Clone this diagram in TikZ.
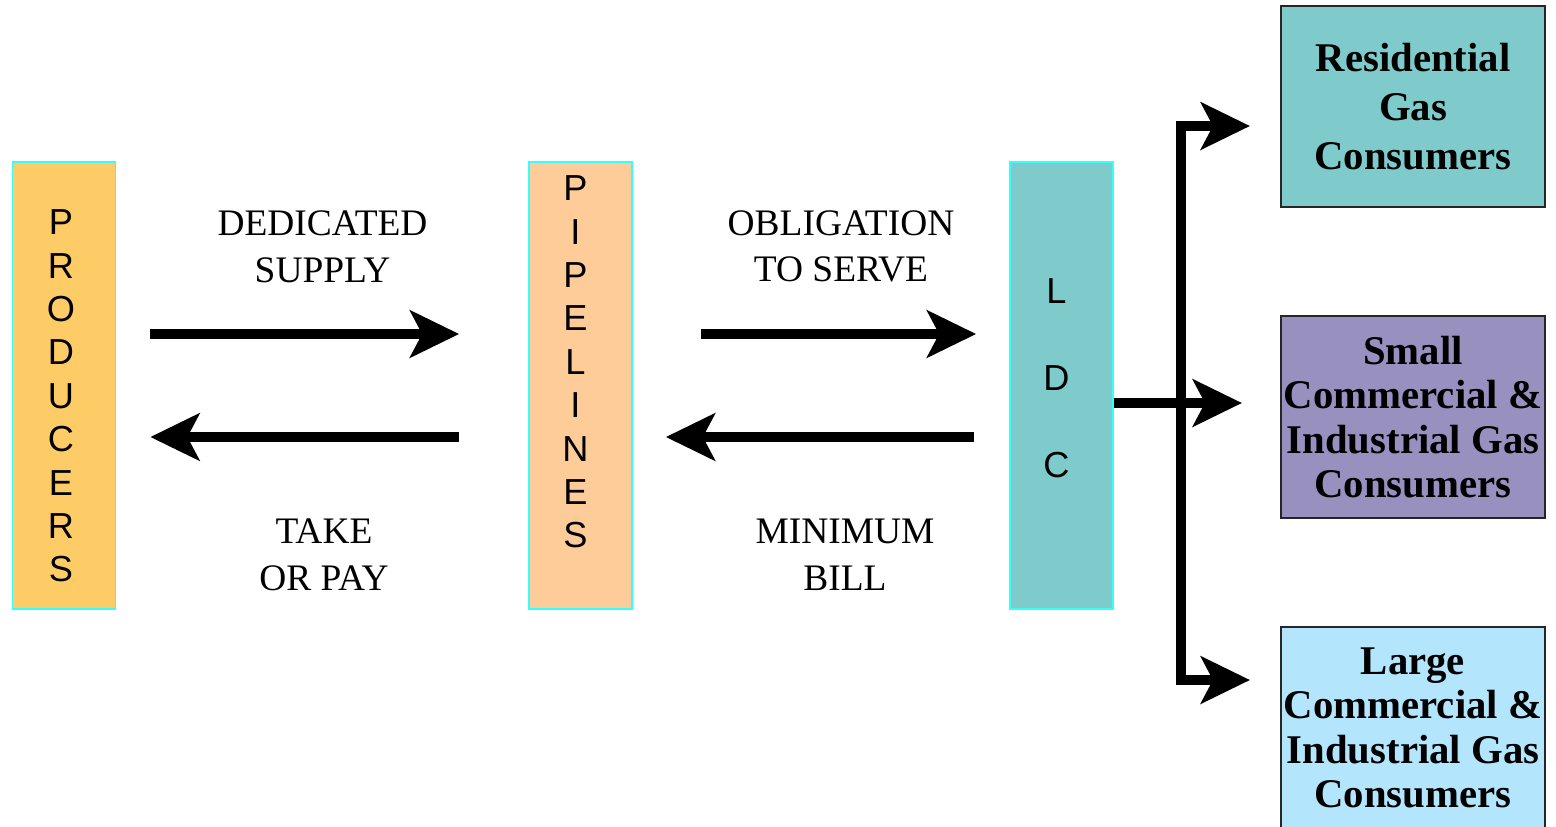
\documentclass[tikz,border=0pt]{standalone}
\usepackage{fontspec}
\setmainfont{Liberation Serif}
\newfontfamily\arialfont{Liberation Sans}
\usetikzlibrary{arrows.meta,positioning}
\definecolor{prodcol}{RGB}{253,204,102}
\definecolor{pipecol}{RGB}{253,204,153}
\definecolor{ldccol}{RGB}{127,203,203}
\definecolor{smallcol}{RGB}{152,144,190}
\definecolor{largecol}{RGB}{179,230,253}
\definecolor{edgecyan}{RGB}{51,255,255}
\tikzset{
  tallbox/.style={draw=edgecyan, line width=1pt, minimum width=2.06cm, minimum height=8.94cm, inner sep=0pt},
  userbox/.style={draw=black!85, line width=1.2pt, minimum width=5.28cm, minimum height=4.03cm, inner sep=0pt, align=center,
    font=\bfseries\fontsize{23.2}{25.3}\selectfont},
  vletters/.style={align=center, inner sep=0pt, font=\arialfont\fontsize{20.6}{24.7}\selectfont},
  flowlabel/.style={align=center, inner sep=0pt, font=\fontsize{21.3}{26.6}\selectfont},
  fatline/.style={line width=0.19cm, line join=miter},
  fatarrow/.style={fatline, -{Stealth[length=0.98cm, width=0.94cm, inset=0.24cm]}}
}
\begin{document}
\begin{tikzpicture}[x=0.02cm, y=-0.02cm]
\useasboundingbox (0,0) rectangle (1556,826);
% the three companies
\node[tallbox, fill=prodcol] (prod) at (64,385.5) {};
\node[tallbox, fill=pipecol] (pipe) at (580.5,385.5) {};
\node[tallbox, fill=ldccol] (ldc) at (1061.5,385.5) {};
\node[vletters] (prodtext) at ([shift={(-3,10.5)}]prod.center) {P\\R\\O\\D\\U\\C\\E\\R\\S};
\node[vletters] (pipetext) at ([shift={(-5,-23.5)}]pipe.center) {P\\I\\P\\E\\L\\I\\N\\E\\S};
\node[vletters, font=\arialfont\fontsize{20.6}{49.6}\selectfont] (ldctext) at ([shift={(-5,-7)}]ldc.center) {L\\D\\C};
% the consumers
\node[userbox, fill=ldccol, font=\bfseries\fontsize{23.2}{28}\selectfont] (res) at (1413,106.5) {Residential\\Gas\\Consumers};
\node[userbox, fill=smallcol] (small) at (1413,417) {Small\\Commercial \&\\Industrial Gas\\Consumers};
\node[userbox, fill=largecol] (large) at (1413,728) {Large\\Commercial \&\\Industrial Gas\\Consumers};
% contracts between them
\draw[fatarrow, shorten <=0.68cm, shorten >=1.38cm] (prod.east |- 0,334) -- (pipe.west |- 0,334);
\draw[fatarrow, shorten <=1.38cm, shorten >=0.68cm] (pipe.west |- 0,437) -- (prod.east |- 0,437);
\draw[fatarrow, shorten <=1.36cm, shorten >=0.66cm] (pipe.east |- 0,334) -- (ldc.west |- 0,334);
\draw[fatarrow, shorten <=0.7cm, shorten >=0.66cm] (ldc.west |- 0,437) -- (pipe.east |- 0,437);
\node[flowlabel] (dedicated) at (322.5,246.5) {DEDICATED\\SUPPLY};
\node[flowlabel] (obligation) at (841,246.5) {OBLIGATION\\TO SERVE};
\node[flowlabel] (takepay) at (324,555) {TAKE\\OR PAY};
\node[flowlabel] (minbill) at (845,555) {MINIMUM\\BILL};
% delivery to the consumers
\coordinate (fork) at (1181,403);
\draw[fatarrow, shorten >=0.76cm] (ldc.east |- fork) -- (small.west |- fork);
\draw[fatarrow, shorten >=0.6cm] (fork) |- (res.west |- 0,126);
\draw[fatarrow, shorten >=0.6cm] (fork) |- (large.west |- 0,680);
\end{tikzpicture}
\end{document}
